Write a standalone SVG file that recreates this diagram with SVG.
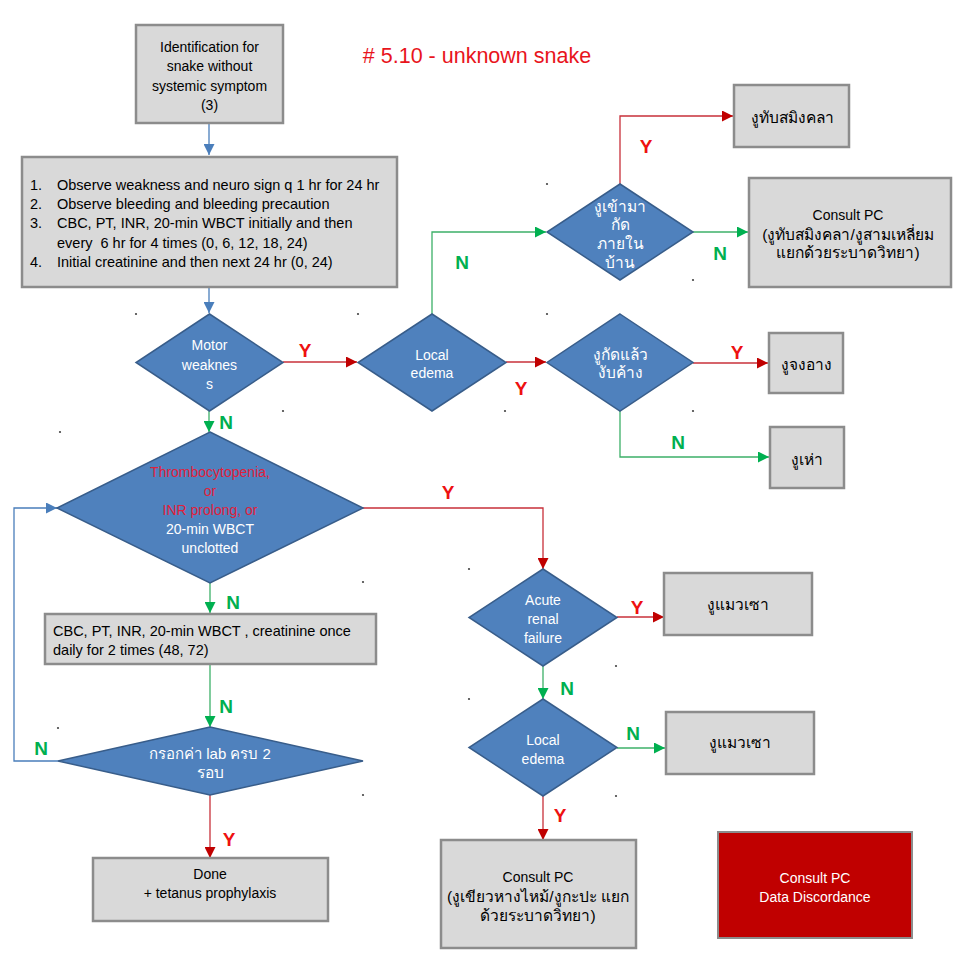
<svg xmlns="http://www.w3.org/2000/svg" width="960" height="960" viewBox="0 0 960 960">
<defs>
<style>
.box{fill:#d9d9d9;stroke:#8c8c8c;stroke-width:2.5}
.red-box{fill:#c00000;stroke:#8c8c8c;stroke-width:2}
.dia{fill:#4f81bd;stroke:#385d8a;stroke-width:1.5}
text{font-family:"Liberation Sans","Noto Sans",sans-serif;font-size:14px}
.th{font-size:15.5px}
.mx{font-size:15px}
.ob{font-size:14.5px}
.c{text-anchor:middle}
.bk{fill:#000}
.wh{fill:#fff}
.rt{fill:#e0203a}
.lr{fill:#ee1111;font-weight:bold;font-size:19px}
.lg{fill:#00b050;font-weight:bold;font-size:19px}
.ln{fill:none;stroke-width:1.3}
.r{stroke:#c8303a}
.g{stroke:#3cb068}
.b{stroke:#4a7ebb}
.dot{fill:#444}
</style>
<marker id="ar" viewBox="0 0 10 10" refX="10" refY="5" markerWidth="12" markerHeight="11" markerUnits="userSpaceOnUse" orient="auto"><path d="M0,0 L10,5 L0,10 z" fill="#c00000"/></marker>
<marker id="ag" viewBox="0 0 10 10" refX="10" refY="5" markerWidth="12" markerHeight="11" markerUnits="userSpaceOnUse" orient="auto"><path d="M0,0 L10,5 L0,10 z" fill="#00b050"/></marker>
<marker id="ab" viewBox="0 0 10 10" refX="10" refY="5" markerWidth="12" markerHeight="11" markerUnits="userSpaceOnUse" orient="auto"><path d="M0,0 L10,5 L0,10 z" fill="#4a7ebb"/></marker>
</defs>
<rect width="960" height="960" fill="#fff"/>

<text x="477" y="63" class="c" style="font-size:21.5px;fill:#e8141c">#&#160;5.10 - unknown snake</text>

<g id="connectors">
<path class="ln b" d="M209,123 V155" marker-end="url(#ab)"/>
<path class="ln b" d="M209,287 V313" marker-end="url(#ab)"/>
<path class="ln r" d="M283,362 H357" marker-end="url(#ar)"/>
<path class="ln r" d="M506,362 H546" marker-end="url(#ar)"/>
<path class="ln g" d="M432,314 V232 H546" marker-end="url(#ag)"/>
<path class="ln r" d="M620,184 V116 H733" marker-end="url(#ar)"/>
<path class="ln g" d="M693,232 H748" marker-end="url(#ag)"/>
<path class="ln r" d="M693,363 H768" marker-end="url(#ar)"/>
<path class="ln g" d="M620,411 V457 H769" marker-end="url(#ag)"/>
<path class="ln g" d="M209,411 V432" marker-end="url(#ag)"/>
<path class="ln g" d="M210,583 V613" marker-end="url(#ag)"/>
<path class="ln g" d="M210,664 V727" marker-end="url(#ag)"/>
<path class="ln r" d="M210,795 V858" marker-end="url(#ar)"/>
<path class="ln b" d="M58,761 H14 V508 H57" marker-end="url(#ab)"/>
<path class="ln r" d="M363,508 H543 V569" marker-end="url(#ar)"/>
<path class="ln r" d="M617,617 H664" marker-end="url(#ar)"/>
<path class="ln g" d="M543,666 V699" marker-end="url(#ag)"/>
<path class="ln g" d="M617,748 H665" marker-end="url(#ag)"/>
<path class="ln r" d="M543,796 V840" marker-end="url(#ar)"/>
<text x="305" y="357" class="c lr">Y</text>
<text x="521" y="395" class="c lr">Y</text>
<text x="462" y="269" class="c lg">N</text>
<text x="646" y="153" class="c lr">Y</text>
<text x="720" y="260" class="c lg">N</text>
<text x="737" y="359" class="c lr">Y</text>
<text x="678" y="449" class="c lg">N</text>
<text x="226" y="429" class="c lg">N</text>
<text x="448" y="499" class="c lr">Y</text>
<text x="233" y="609" class="c lg">N</text>
<text x="226" y="713" class="c lg">N</text>
<text x="41" y="755" class="c lg">N</text>
<text x="229" y="846" class="c lr">Y</text>
<text x="637" y="614" class="c lr">Y</text>
<text x="567" y="695" class="c lg">N</text>
<text x="633" y="740" class="c lg">N</text>
<text x="560" y="822" class="c lr">Y</text>
</g>

<g id="n-identification">
<rect class="box" x="136" y="25" width="147" height="98"/>
<text class="c bk" x="209.5" y="52">Identification for</text>
<text class="c bk" x="209.5" y="71">snake without</text>
<text class="c bk" x="209.5" y="91">systemic symptom</text>
<text class="c bk" x="209.5" y="110">(3)</text>
</g>

<g id="n-observe">
<rect class="box" x="22" y="157" width="375" height="130"/>
<text class="bk ob" x="30" y="190">1.</text><text class="bk ob" x="57" y="190">Observe weakness and neuro sign q 1 hr for 24 hr</text>
<text class="bk ob" x="30" y="209">2.</text><text class="bk ob" x="57" y="209">Observe bleeding and bleeding precaution</text>
<text class="bk ob" x="30" y="228">3.</text><text class="bk ob" x="57" y="228">CBC, PT, INR, 20-min WBCT initially and then</text>
<text class="bk ob" x="57" y="248" xml:space="preserve">every  6 hr for 4 times (0, 6, 12, 18, 24)</text>
<text class="bk ob" x="30" y="267">4.</text><text class="bk ob" x="57" y="267">Initial creatinine and then next 24 hr (0, 24)</text>
</g>

<g id="n-motor">
<polygon class="dia" points="209.5,314 283,362.5 209.5,411 136,362.5"/>
<text class="c wh" x="209.5" y="350">Motor</text>
<text class="c wh" x="209.5" y="370">weaknes</text>
<text class="c wh" x="209.5" y="389">s</text>
</g>

<g id="n-local-edema-1">
<polygon class="dia" points="432,314 506,362.5 432,411 358,362.5"/>
<text class="c wh" x="432" y="360">Local</text>
<text class="c wh" x="432" y="378">edema</text>
</g>

<g id="n-home">
<polygon class="dia" points="620,184 693,232 620,280 547,232"/>
<text class="c wh th" x="620" y="212">งูเข้ามา</text>
<text class="c wh th" x="620" y="230">กัด</text>
<text class="c wh th" x="620" y="249">ภายใน</text>
<text class="c wh th" x="620" y="268">บ้าน</text>
</g>

<g id="n-ngu-thap">
<rect class="box" x="734" y="85" width="115" height="62"/>
<text class="c bk th" x="792" y="123">งูทับสมิงคลา</text>
</g>

<g id="n-consult-1">
<rect class="box" x="749" y="178" width="202" height="109"/>
<text class="c bk" x="848" y="220">Consult PC</text>
<text class="c bk th" x="848" y="240">(งูทับสมิงคลา/งูสามเหลี่ยม</text>
<text class="c bk th" x="848" y="258">แยกด้วยระบาดวิทยา)</text>
</g>

<g id="n-bite">
<polygon class="dia" points="620,314 693,362.5 620,411 547,362.5"/>
<text class="c wh th" x="620" y="360">งูกัดแล้ว</text>
<text class="c wh th" x="620" y="378">งับค้าง</text>
</g>

<g id="n-ngu-chong-ang">
<rect class="box" x="769" y="333" width="74" height="60"/>
<text class="c bk th" x="806" y="370">งูจงอาง</text>
</g>

<g id="n-ngu-hao">
<rect class="box" x="770" y="427" width="74" height="61"/>
<text class="c bk th" x="807" y="465">งูเห่า</text>
</g>

<g id="n-thrombo">
<polygon class="dia" points="210,432 363,508 210,583 57,508"/>
<text class="c rt" x="210" y="477">Thrombocytopenia,</text>
<text class="c rt" x="210" y="496">or</text>
<text class="c rt" x="210" y="515">INR prolong, or</text>
<text class="c wh" x="210" y="534">20-min WBCT</text>
<text class="c wh" x="210" y="553">unclotted</text>
</g>

<g id="n-cbc">
<rect class="box" x="45" y="614" width="331" height="50"/>
<text class="bk ob" x="53" y="636">CBC, PT, INR, 20-min WBCT , creatinine once</text>
<text class="bk ob" x="53" y="655">daily for 2 times (48, 72)</text>
</g>

<g id="n-lab">
<polygon class="dia" points="210,727 363,761 210,795 58,761"/>
<text class="c wh mx" x="210" y="759">กรอกค่า lab ครบ 2</text>
<text class="c wh th" x="210" y="778">รอบ</text>
</g>

<g id="n-done">
<rect class="box" x="93" y="858" width="235" height="63"/>
<text class="c bk" x="210" y="879">Done</text>
<text class="c bk" x="210" y="898">+ tetanus prophylaxis</text>
</g>

<g id="n-acute">
<polygon class="dia" points="543,569 617,617.5 543,666 469,617.5"/>
<text class="c wh" x="543" y="605">Acute</text>
<text class="c wh" x="543" y="624">renal</text>
<text class="c wh" x="543" y="643">failure</text>
</g>

<g id="n-maew-sao-1">
<rect class="box" x="664" y="573" width="148" height="62"/>
<text class="c bk th" x="738" y="610">งูแมวเซา</text>
</g>

<g id="n-local-edema-2">
<polygon class="dia" points="543,699 617,747.5 543,796 469,747.5"/>
<text class="c wh" x="543" y="745">Local</text>
<text class="c wh" x="543" y="764">edema</text>
</g>

<g id="n-maew-sao-2">
<rect class="box" x="666" y="712" width="148" height="62"/>
<text class="c bk th" x="740" y="748">งูแมวเซา</text>
</g>

<g id="n-consult-2">
<rect class="box" x="441" y="840" width="195" height="108"/>
<text class="c bk" x="538" y="882">Consult PC</text>
<text class="c bk th" x="538" y="902">(งูเขียวหางไหม้/งูกะปะ แยก</text>
<text class="c bk th" x="538" y="921">ด้วยระบาดวิทยา)</text>
</g>

<g id="n-discordance">
<rect class="red-box" x="718" y="832" width="194" height="106"/>
<text class="c wh" x="815" y="883">Consult PC</text>
<text class="c wh" x="815" y="902">Data Discordance</text>
</g>

<g id="dots">
<circle class="dot" cx="136" cy="314" r="1.1"/>
<circle class="dot" cx="358" cy="314" r="1.1"/>
<circle class="dot" cx="547" cy="314" r="1.1"/>
<circle class="dot" cx="283" cy="411" r="1.1"/>
<circle class="dot" cx="505" cy="411" r="1.1"/>
<circle class="dot" cx="693" cy="411" r="1.1"/>
<circle class="dot" cx="547" cy="184" r="1.1"/>
<circle class="dot" cx="693" cy="280" r="1.1"/>
<circle class="dot" cx="60" cy="432" r="1.1"/>
<circle class="dot" cx="363" cy="582" r="1.1"/>
<circle class="dot" cx="469" cy="569" r="1.1"/>
<circle class="dot" cx="616" cy="666" r="1.1"/>
<circle class="dot" cx="469" cy="699" r="1.1"/>
<circle class="dot" cx="616" cy="796" r="1.1"/>
<circle class="dot" cx="58" cy="728" r="1.1"/>
<circle class="dot" cx="363" cy="795" r="1.1"/>
</g>
</svg>
